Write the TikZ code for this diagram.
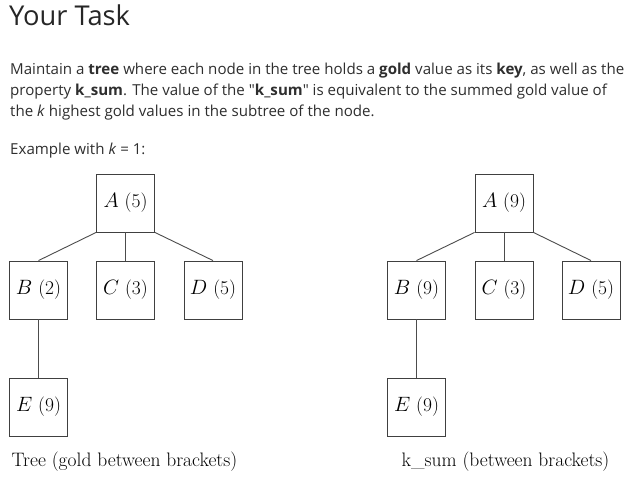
\documentclass[tikz,border=0pt]{standalone}
\usepackage{fontspec}
\newfontfamily\osans{Open Sans}
\begin{document}
\begin{tikzpicture}[x=1pt,y=-1pt,
  box/.style={draw=black!75,line width=0.9pt,minimum width=58pt,minimum height=58pt,inner sep=0pt,
    font=\fontsize{19.5}{20}\selectfont},
  edge/.style={draw=black!70,line width=0.9pt},
  para/.style={anchor=base west,inner sep=0pt,text=black!82,font=\osans\fontsize{15.1}{18}\selectfont},
  captext/.style={anchor=base west,inner sep=0pt,font=\fontsize{19.5}{20}\selectfont}]
\useasboundingbox[fill=white] (0,0) rectangle (639,485);
\node[anchor=base west,inner sep=0pt,text=black!85,font=\osans\fontsize{27.3}{30}\selectfont] (title) at (9,25) {Your Task};
\node[para] (l1) at (10,74) {Maintain a \textbf{tree} where each node in the tree holds a \textbf{gold} value as its \textbf{key}, as well as the};
\node[para] (l2) at (10,95) {property \textbf{k\_sum}. The value of the "\textbf{k\_sum}" is equivalent to the summed gold value of};
\node[para] (l3) at (10,116) {the \textit{k} highest gold values in the subtree of the node.};
\node[para] (l4) at (10,154) {Example with \textit{k} = 1:};
% left tree
\node[box] (A) at (125.5,203) {$A$ (5)};
\node[box] (B) at (38.5,290) {$B$ (2)};
\node[box] (C) at (125.5,290) {$C$ (3)};
\node[box] (D) at (213,290) {$D$ (5)};
\node[box] (E) at (38.5,407) {$E$ (9)};
\draw[edge] (A.south west) -- (B.north);
\draw[edge] (A.south) -- (C.north);
\draw[edge] (A.south east) -- (D.north);
\draw[edge] (B.south) -- (E.north);
\node[captext] (capL) at (11.5,466.5) {Tree (gold between brackets)};
% right tree
\node[box] (A2) at (504,203) {$A$ (9)};
\node[box] (B2) at (416.5,290) {$B$ (9)};
\node[box] (C2) at (504,290) {$C$ (3)};
\node[box] (D2) at (591,290) {$D$ (5)};
\node[box] (E2) at (416.5,407) {$E$ (9)};
\draw[edge] (A2.south west) -- (B2.north);
\draw[edge] (A2.south) -- (C2.north);
\draw[edge] (A2.south east) -- (D2.north);
\draw[edge] (B2.south) -- (E2.north);
\node[captext] (capR) at (401.5,466.5) {k\_sum (between brackets)};
\end{tikzpicture}
\end{document}
